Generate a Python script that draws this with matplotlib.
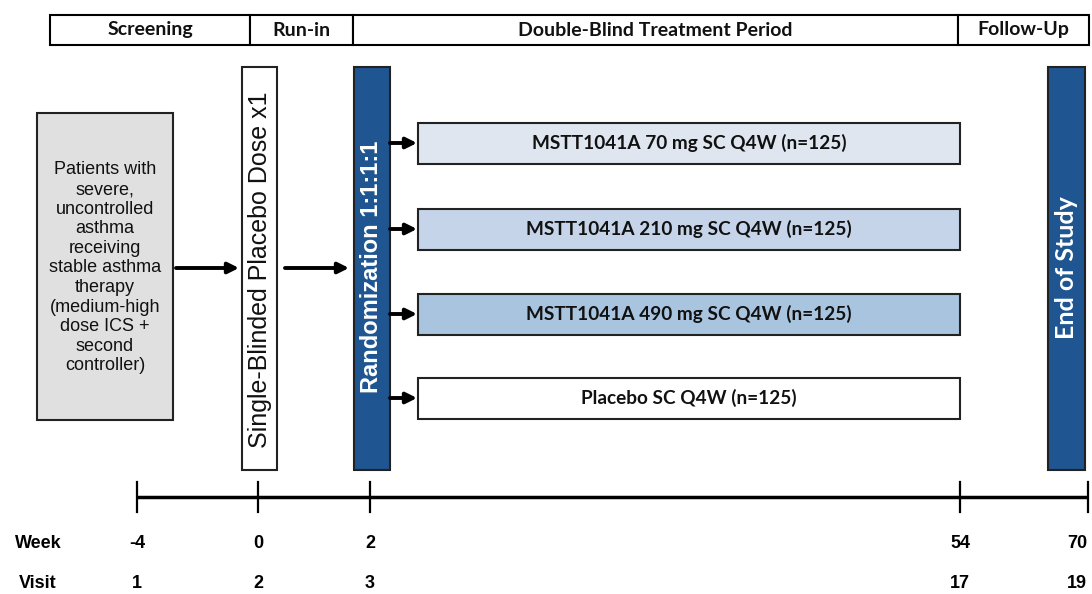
import matplotlib.pyplot as plt
from matplotlib.patches import Rectangle

## Data ##
phases = ["Screening", "Run-in", "Double-Blind Treatment Period", "Follow-Up"]
arms = [
    "MSTT1041A 70 mg SC Q4W (n=125)",
    "MSTT1041A 210 mg SC Q4W (n=125)",
    "MSTT1041A 490 mg SC Q4W (n=125)",
    "Placebo SC Q4W (n=125)",
]
arm_colors = ["#dfe6f0", "#c6d4e9", "#a8c4de", "#ffffff"]
weeks = ["-4", "0", "2", "54", "70"]
visits = ["1", "2", "3", "17", "19"]
patients_text = ("Patients with\nsevere,\nuncontrolled\nasthma\nreceiving\nstable asthma\n"
                 "therapy\n(medium-high\ndose ICS +\nsecond\ncontroller)")
runin_text = "Single-Blinded Placebo Dose x1"
rand_text = "Randomization 1:1:1:1"
end_text = "End of Study"

## Layout (pixels) ##
phase_edges = [50, 250, 353, 958, 1089]
tick_x = [137, 258, 370, 960, 1088]
label_x = [137, 258, 370, 960, 1077]
arm_y = [143, 229, 314, 398]
blue = "#1f5591"
calibri = ["Lato", "DejaVu Sans"]
arial = ["Liberation Sans", "DejaVu Sans"]

fig = plt.figure(figsize=(10.92, 5.94), dpi=100)
ax = fig.add_axes([0, 0, 1, 1])
ax.set_xlim(0, 1092)
ax.set_ylim(594, 0)
ax.axis("off")

# header row
for i, name in enumerate(phases):
    x0, x1 = phase_edges[i], phase_edges[i + 1]
    ax.add_patch(Rectangle((x0, 15), x1 - x0, 30, facecolor="white",
                           edgecolor="black", lw=1.5))
    ax.text((x0 + x1) / 2, 30, name, ha="center", va="center",
            fontsize=14, fontweight="bold", family=calibri, color="#111111")

# patients box
ax.add_patch(Rectangle((37, 113), 136, 307, facecolor="#e0e0e0",
                       edgecolor="#222222", lw=1.5))
ax.text(105, 268, patients_text, ha="center", va="center", fontsize=13,
        family=arial, linespacing=1.2, color="#111111")

# run-in box
ax.add_patch(Rectangle((242, 67), 35, 403, facecolor="white",
                       edgecolor="#222222", lw=1.5))
ax.text(260, 270, runin_text, rotation=90, ha="center", va="center",
        fontsize=18, family=arial, color="#111111")

# randomization bar
ax.add_patch(Rectangle((354, 67), 36, 403, facecolor=blue,
                       edgecolor="#222222", lw=1.5))
ax.text(372, 267, rand_text, rotation=90, ha="center", va="center",
        fontsize=17, fontweight="bold", family=arial, color="white")

# end of study bar
ax.add_patch(Rectangle((1048, 67), 37, 403, facecolor=blue,
                       edgecolor="#222222", lw=1.5))
ax.text(1067, 268, end_text, rotation=90, ha="center", va="center",
        fontsize=18, fontweight="bold", family=calibri, color="white")

arrow = dict(arrowstyle="-|>", lw=2.8, color="black", mutation_scale=16,
             shrinkA=0, shrinkB=0)
ax.annotate("", xy=(239, 268), xytext=(176, 268), arrowprops=arrow)
ax.annotate("", xy=(349, 268), xytext=(285, 268), arrowprops=arrow)

# treatment arms
for label, col, y in zip(arms, arm_colors, arm_y):
    ax.add_patch(Rectangle((418, y - 20.5), 542, 41, facecolor=col,
                           edgecolor="#222222", lw=1.5))
    ax.text(689, y, label, ha="center", va="center", fontsize=13.7,
            fontweight="bold", family=calibri, color="#111111")
    ax.annotate("", xy=(417, y), xytext=(390, y), arrowprops=arrow)

# timeline
ax.plot([tick_x[0], tick_x[-1]], [497, 497], color="black", lw=2.5,
        solid_capstyle="butt")
for x in tick_x:
    ax.plot([x, x], [482, 512], color="black", lw=1.6)
for x, w, v in zip(label_x, weeks, visits):
    ax.text(x, 544, w, ha="center", va="center", fontsize=13,
            fontweight="bold", family=arial)
    ax.text(x, 584, v, ha="center", va="center", fontsize=13,
            fontweight="bold", family=arial)
ax.text(38, 544, "Week", ha="center", va="center", fontsize=13,
        fontweight="bold", family=arial)
ax.text(38, 584, "Visit", ha="center", va="center", fontsize=13,
        fontweight="bold", family=arial)

fig.savefig("out.png", dpi=100)
